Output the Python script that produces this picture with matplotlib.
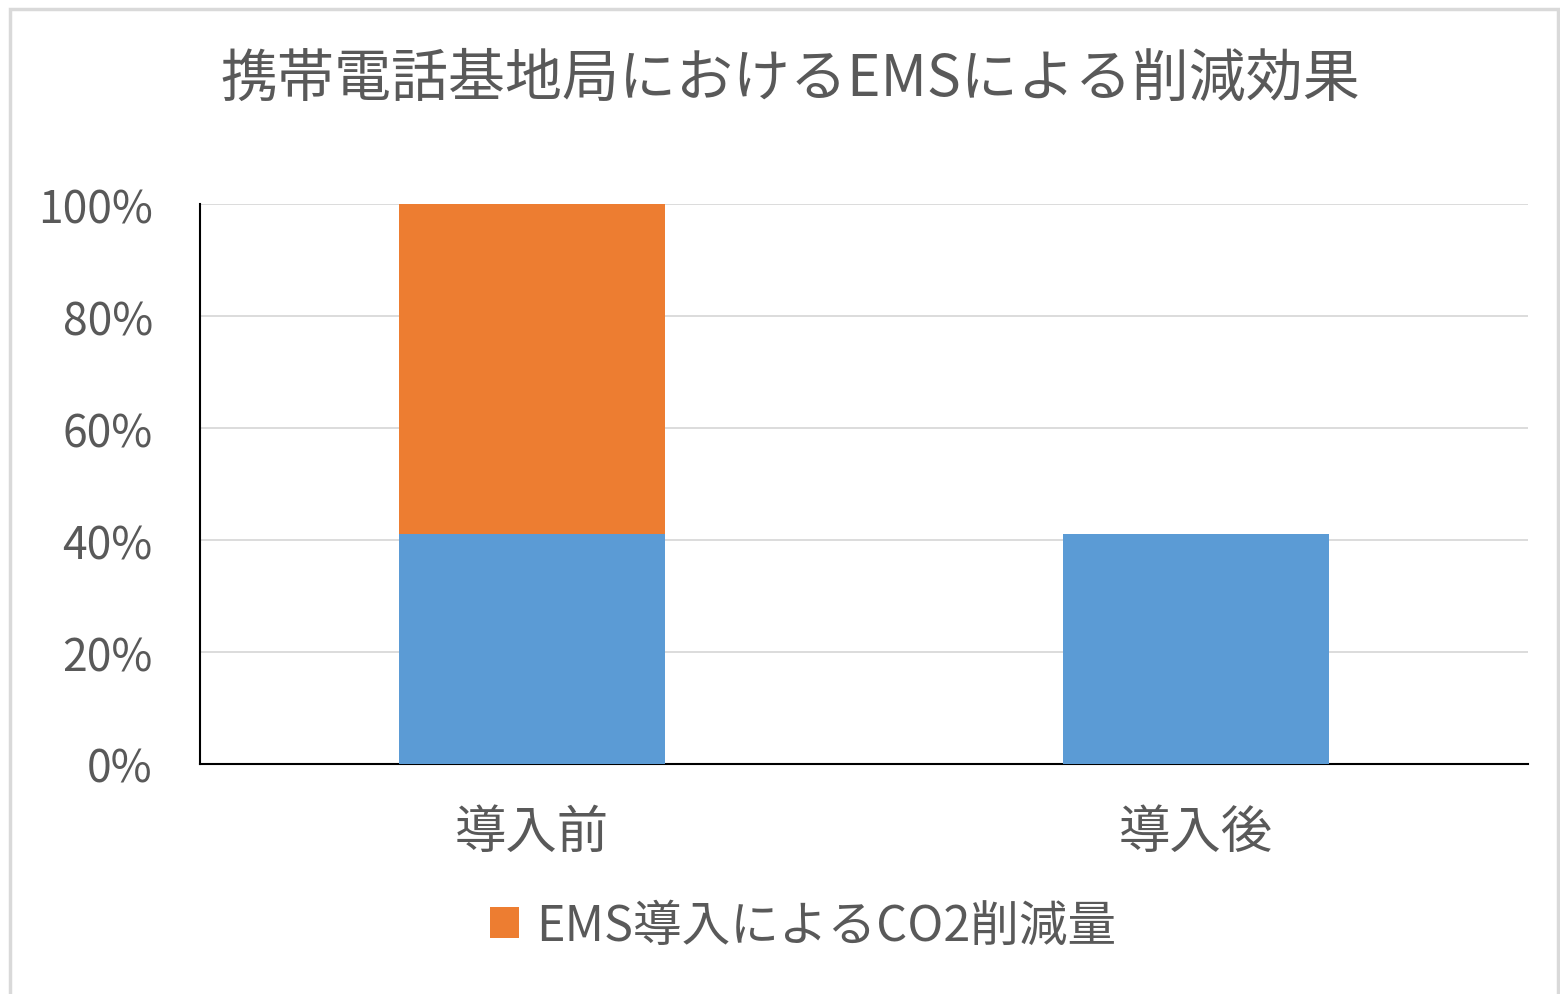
import matplotlib
matplotlib.use("Agg")
import matplotlib.pyplot as plt
from matplotlib.patches import Rectangle
from matplotlib.ticker import PercentFormatter

plt.rcParams["font.family"] = ["Noto Sans CJK JP", "DejaVu Sans"]

# data
categories = ["導入前", "導入後"]
remaining = [0.41, 0.41]        # blue: emissions after EMS
reduction = [0.59, 0.0]         # orange: CO2 reduced by EMS
reduction_label = "EMS導入によるCO2削減量"
title = "携帯電話基地局におけるEMSによる削減効果"
y_ticks = [0, 0.2, 0.4, 0.6, 0.8, 1.0]

blue = "#5b9bd5"
orange = "#ed7d31"
text_gray = "#595959"
grid_gray = "#d9d9d9"

fig = plt.figure(figsize=(15.6, 9.95), dpi=100)
ax = fig.add_axes([200 / 1560, 1 - 765 / 995, 1328 / 1560, 560 / 995])

x = list(range(len(categories)))
ax.bar(x, remaining, width=0.4, color=blue, zorder=3)
h_red = ax.bar(x, reduction, width=0.4, bottom=remaining, color=orange,
               zorder=3, label=reduction_label)

ax.set_xlim(-0.5, 1.5)
ax.set_ylim(0, 1.0)
ax.set_yticks(y_ticks)
ax.yaxis.set_major_formatter(PercentFormatter(1.0, decimals=0))
ax.set_xticks(x)
ax.set_xticklabels(categories)
ax.tick_params(axis="both", length=0, colors=text_gray)
ax.tick_params(axis="y", labelsize=32, pad=34)
ax.tick_params(axis="x", labelsize=37, pad=30)
ax.grid(axis="y", color=grid_gray, linewidth=1.3, zorder=0)

for s in ["top", "right"]:
    ax.spines[s].set_visible(False)
for s in ["left", "bottom"]:
    ax.spines[s].set_color("black")
    ax.spines[s].set_linewidth(1.5)

fig.text(790 / 1560, 1 - 80 / 995, title, ha="center", va="center",
         fontsize=41, color=text_gray)

fig.legend(handles=[h_red], labels=[reduction_label], loc="center",
           bbox_to_anchor=(803 / 1560, 1 - 927 / 995), frameon=False,
           fontsize=35, labelcolor=text_gray, handlelength=0.6,
           handleheight=0.6, handletextpad=0.35)

# light gray chart frame
fig.patches.append(Rectangle((10 / 1560, -0.01), 1548 / 1560, 1 - 10 / 995 + 0.01,
                             transform=fig.transFigure, fill=False,
                             edgecolor=grid_gray, linewidth=2.5))

fig.savefig("out.png", dpi=100)
